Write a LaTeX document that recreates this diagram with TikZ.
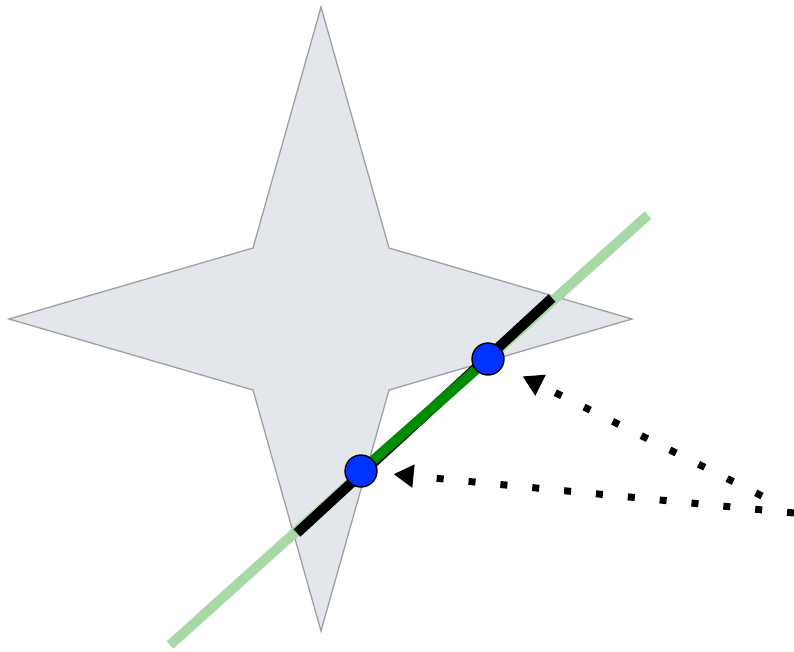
\documentclass[tikz,border=0pt]{standalone}
\usetikzlibrary{arrows.meta}
\definecolor{starfill}{HTML}{E3E6EB}
\definecolor{starline}{HTML}{A0A0A4}
\definecolor{guidegreen}{HTML}{A6D9A6}
\definecolor{hitblue}{HTML}{0033FF}

\begin{document}
\begin{tikzpicture}[
  x=1pt,y=-1pt,
  >=Latex,
  star/.style={draw=starline,line width=1.3pt,fill=starfill,line join=miter},
  guide/.style={draw=guidegreen,line width=10pt},
  clip/.style={draw=black,line width=10pt},
  inside/.style={draw=green!55!black,line width=10pt},
  hit/.style={circle,draw=black,line width=1.4pt,fill=hitblue,minimum size=32pt,inner sep=0pt},
  pointer/.style={draw,line width=7pt,dash pattern=on 7pt off 25pt,-{Triangle[length=20pt,width=22pt]},shorten >=16pt}
]
\useasboundingbox (0,0) rectangle (794,652);

% the star
\fill[star] (321,7) -- (389,248) -- (632,319) -- (389,390) -- (321,631)
  -- (253,390) -- (9,319) -- (253,248) -- cycle;

% the line and its clipped parts
\coordinate (lineA) at (170,645);
\coordinate (lineB) at (648,215);
\coordinate (clipA) at (297,533);
\coordinate (clipB) at (552,298);
\draw[guide] (lineA) -- (lineB);
\draw[clip] (clipA) -- (clipB);

% intersection points
\node[hit] (p1) at (361,471) {};
\node[hit] (p2) at (488,359) {};
\draw[inside] (p1) -- (p2);

% pointers
\coordinate (t1) at (794,513);
\coordinate (t2) at (762,496);
\draw[pointer] (t1) -- (p1);
\draw[pointer,shorten >=22pt] (t2) -- (p2);
\end{tikzpicture}
\end{document}
